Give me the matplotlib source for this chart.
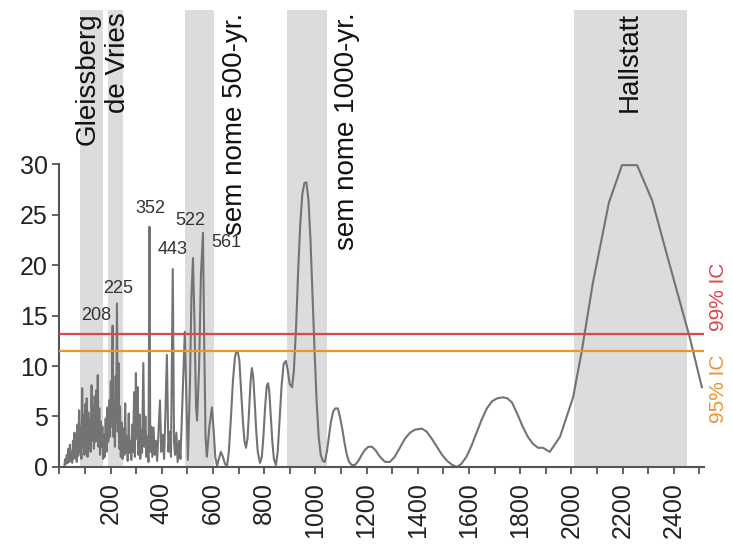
import numpy as np
import matplotlib.pyplot as plt
from matplotlib.ticker import MultipleLocator

plt.rcParams['font.family'] = ['Liberation Sans', 'DejaVu Sans']

# periodogram (period in years, power)
period = [20, 23, 26, 29, 32, 35, 38, 41, 44, 47, 50, 53, 56, 59, 62, 65, 68, 71, 74, 77,
          80, 83, 86, 89, 92, 95, 98, 101, 104, 107, 110, 113, 116, 119, 122, 126, 129, 132,
          135, 138, 141, 144, 147, 150, 153, 156, 159, 162, 165, 168, 171, 174, 177, 181, 184,
          188, 191, 195, 198, 201, 204, 208, 211, 214, 217, 220, 222, 225, 228, 231, 234, 237,
          240, 244, 247, 251, 254, 257, 260, 264, 267, 271, 274, 278, 281, 285, 288, 292, 295,
          299, 302, 306, 309, 313, 316, 320, 323, 328, 332, 336, 340, 344, 348, 352, 355, 359,
          363, 368, 372, 377, 382, 393, 398, 404, 409, 414, 420, 426, 431, 436, 443, 448, 452,
          457, 462, 468, 473, 480, 490, 502, 510, 516, 522, 528, 534, 538, 546, 553, 561, 566,
          571, 576, 586, 596, 603, 609, 616, 623, 631, 639, 647, 655, 662, 670, 678, 686, 691, 696,
          703, 710, 717, 723, 729, 735, 741, 747, 752, 757, 763, 769, 775, 784, 791, 797, 804,
          810, 815, 820, 826, 832, 838, 846, 853, 860, 868, 876, 885, 892, 900, 909, 916, 925,
          933, 941, 949, 957, 965, 973, 981, 989, 997, 1005, 1013, 1021, 1029, 1037, 1045, 1053,
          1061, 1070, 1078, 1088, 1096, 1105, 1114, 1123, 1132, 1142, 1155, 1168, 1181, 1194,
          1207, 1221, 1234, 1247, 1260, 1273, 1291, 1310, 1330, 1350, 1370, 1390, 1416, 1435,
          1455, 1475, 1495, 1515, 1535, 1553, 1570, 1590, 1610, 1630, 1650, 1670, 1690, 1710,
          1733, 1750, 1768, 1790, 1810, 1830, 1850, 1870, 1889, 1916, 1956, 2007, 2041, 2084,
          2147, 2198, 2257, 2316, 2377, 2463, 2510]
power = [0.2, 0.8, 0.3, 1.2, 0.4, 1.8, 0.5, 2.2, 0.6, 1.5, 0.4, 2.6, 0.8, 3.4, 0.9, 2.8, 0.5, 4.2, 1.1, 5.6,
         1.5, 4.0, 0.8, 7.8, 2.0, 5.1, 1.2, 6.2, 2.4, 6.8, 1.0, 5.4, 2.2, 4.6, 1.5, 8.1, 2.6, 6.0,
         1.8, 7.0, 2.5, 7.6, 3.0, 9.1, 2.0, 5.8, 1.2, 4.5, 2.0, 4.0, 0.8, 3.2, 1.0, 4.8, 1.5,
         5.9, 2.5, 6.6, 3.0, 8.5, 4.0, 14.0, 3.0, 6.3, 2.0, 9.0, 4.5, 16.2, 3.5, 10.3, 1.8, 6.0,
         1.0, 4.4, 0.8, 3.8, 1.2, 6.3, 1.5, 3.0, 0.6, 5.3, 1.4, 2.6, 0.7, 4.2, 1.5, 7.4, 1.0,
         9.3, 2.8, 7.9, 1.2, 5.2, 0.8, 3.6, 1.4, 10.3, 2.0, 5.0, 1.0, 3.0, 0.5, 23.8, 1.5, 4.0,
         1.0, 3.9, 1.2, 2.6, 0.6, 6.6, 1.5, 3.2, 0.8, 5.0, 11.1, 1.5, 3.5, 1.0, 19.6, 2.5, 1.2,
         3.4, 0.5, 2.6, 0.8, 6.0, 13.4, 0.7, 8.0, 17.0, 20.7, 14.0, 6.0, 4.6, 10.0, 19.0, 23.2, 12.0,
         3.0, 1.0, 4.0, 5.9, 3.5, 1.0, 0.1, 0.8, 1.5, 1.0, 0.3, 0.1, 1.5, 4.8, 8.5, 10.9, 11.4, 11.5,
         10.6, 7.5, 4.5, 2.6, 1.9, 2.8, 5.5, 8.5, 9.8, 9.0, 6.5, 3.6, 1.5, 0.4, 1.0, 3.0, 6.0,
         8.0, 8.3, 7.5, 5.0, 2.5, 0.8, 0.2, 1.5, 4.5, 8.0, 10.2, 10.5, 9.6, 8.2, 7.9, 9.5, 14.0,
         19.5, 24.0, 27.0, 28.1, 28.2, 26.5, 22.5, 17.0, 11.5, 6.5, 3.0, 1.2, 0.6, 0.5, 1.5, 3.0,
         4.5, 5.5, 5.8, 5.8, 5.0, 3.8, 2.4, 1.2, 0.5, 0.2, 0.2, 0.6, 1.2, 1.7,
         2.0, 2.0, 1.7, 1.2, 0.8, 0.5, 0.5, 1.0, 1.9, 2.8, 3.4, 3.7, 3.8, 3.5,
         2.8, 2.0, 1.2, 0.6, 0.2, 0.0, 0.3, 1.0, 2.1, 3.4, 4.7, 5.8, 6.5, 6.8,
         6.9, 6.8, 6.4, 5.2, 4.0, 3.0, 2.3, 1.9, 1.9, 1.5, 3.0, 6.9, 11.5, 18.2,
         26.2, 29.9, 29.9, 26.4, 20.7, 12.8, 7.9]

cycle_names = ['Gleissberg', 'de Vries', 'sem nome 500-yr.', 'sem nome 1000-yr.', 'Hallstatt']
cycle_start = [80, 190, 490, 889, 2010]
cycle_end = [170, 248, 604, 1045, 2452]
cycle_label_x = [112, 229, 686, 1123, 2229]

peak_labels = ['208', '225', '352', '443', '522', '561']
peak_label_x = [143, 229, 354, 444, 513, 651]
peak_label_y = [15.0, 17.7, 25.6, 21.5, 24.4, 22.2]

ic99 = 13.2
ic95 = 11.45

fig = plt.figure(figsize=(7.33, 5.51), dpi=100)
ax = fig.add_axes([0.081, 0.1525, 0.88, 0.829])

for s, e in zip(cycle_start, cycle_end):
    ax.axvspan(s, e, color='#dcdcdc', lw=0, zorder=0)
for name, x in zip(cycle_names, cycle_label_x):
    ax.text(x, 0.995, name, transform=ax.get_xaxis_transform(), rotation=90,
            ha='center', va='top', fontsize=20, color='#111111')

ax.plot(period, power, color='#737373', lw=1.5, zorder=2)

ax.axhline(ic99, color='#e0444c', lw=1.6, zorder=3)
ax.axhline(ic95, color='#f0922e', lw=1.6, zorder=3)
ax.text(2575, ic99 + 0.3, '99% IC', rotation=90, ha='center', va='bottom',
        fontsize=15, color='#e0444c', clip_on=False)
ax.text(2575, ic95 - 0.3, '95% IC', rotation=90, ha='center', va='top',
        fontsize=15, color='#f0922e', clip_on=False)

for lab, x, y in zip(peak_labels, peak_label_x, peak_label_y):
    ax.text(x, y, lab, ha='center', va='center', fontsize=13, color='#333333')

ax.set_xlim(0, 2520)
ax.set_ylim(0, 45.25)
ax.set_yticks(range(0, 31, 5))
ax.set_xticks(range(200, 2401, 200))
ax.xaxis.set_minor_locator(MultipleLocator(100))
ax.tick_params(axis='x', which='both', length=5, width=1.3, color='#555555',
               labelsize=18, labelrotation=90, labelcolor='#222222', pad=6)
ax.tick_params(axis='y', length=5, width=1.3, color='#555555', labelsize=18,
               labelcolor='#222222')
ax.spines['left'].set_bounds(0, 30)
for side in ['left', 'bottom']:
    ax.spines[side].set_color('#555555')
    ax.spines[side].set_linewidth(1.5)
ax.spines['top'].set_visible(False)
ax.spines['right'].set_visible(False)

fig.savefig('out.png', dpi=100)
